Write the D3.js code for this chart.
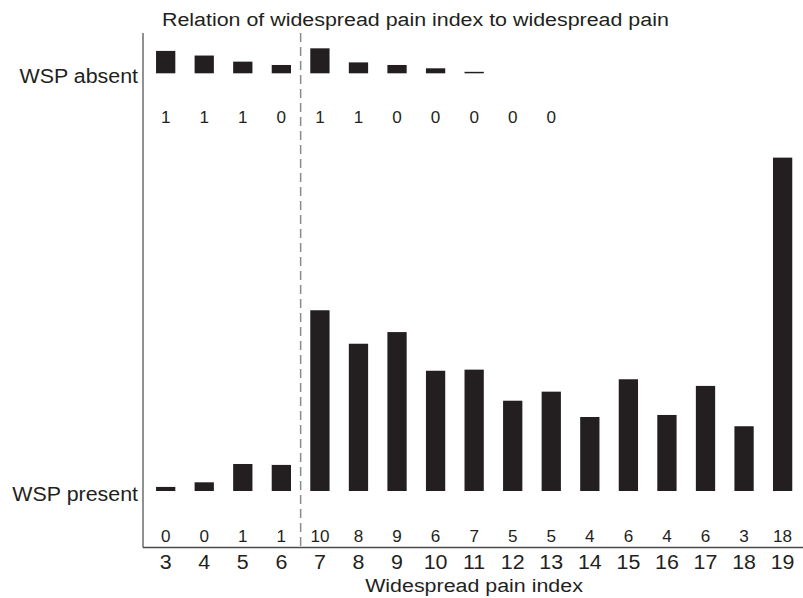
<!DOCTYPE html>
<html>
<head>
<meta charset="utf-8">
<script src="https://cdn.jsdelivr.net/npm/d3@7"></script>
<style>
  html, body { margin: 0; padding: 0; background: #fff; }
  svg { display: block; }
  text { font-family: "Liberation Sans", Arial, Helvetica, sans-serif; fill: #231f20; }
</style>
</head>
<body>
<svg id="chart" width="803" height="598"></svg>
<script>
// ---- data ----
const categories = [3, 4, 5, 6, 7, 8, 9, 10, 11, 12, 13, 14, 15, 16, 17, 18, 19];
// WSP present: bar heights (percent of patients)
const presentValues = [0.22, 0.47, 1.46, 1.41, 9.77, 7.96, 8.59, 6.5, 6.56, 4.88, 5.37, 4.0, 6.04, 4.11, 5.68, 3.5, 18.02];
const presentLabels = ["0", "0", "1", "1", "10", "8", "9", "6", "7", "5", "5", "4", "6", "4", "6", "3", "18"];
// WSP absent: categories 3..13
const absentCategories = [3, 4, 5, 6, 7, 8, 9, 10, 11, 12, 13];
const absentValues = [1.21, 0.96, 0.63, 0.45, 1.35, 0.59, 0.45, 0.27, 0.08, 0, 0];
const absentLabels = ["1", "1", "1", "0", "1", "1", "0", "0", "0", "0", "0"];
const groupLabels = ["WSP absent", "WSP present"];
const cutoff = 6.5; // dashed line between 6 and 7
const titleText = "Relation of widespread pain index to widespread pain";
const xTitle = "Widespread pain index";

// ---- layout ----
const svg = d3.select("#chart");
const ink = "#231f20";
const axisX0 = 143, axisTop = 33, axisBottom = 547.5, axisRight = 803;
const presentBase = 491, absentBase = 73.3;
const pxPerUnit = 18.5;

const x = d3.scaleBand()
  .domain(categories)
  .range([146.4, 801.9])
  .paddingInner(0.5)
  .paddingOuter(0.25);

const yPresent = d3.scaleLinear().domain([0, 20]).range([presentBase, presentBase - 20 * pxPerUnit]);
const yAbsent = d3.scaleLinear().domain([0, 2]).range([absentBase, absentBase - 2 * pxPerUnit]);

function stretchedText(g, str, px, py, size, sx, anchor) {
  return g.append("text")
    .attr("transform", `translate(${px},${py}) scale(${sx},1)`)
    .attr("text-anchor", anchor)
    .style("font-size", size + "px")
    .text(str);
}

// title
stretchedText(svg, titleText, 162, 26, 18, 1.19, "start");

// dashed cutoff line
const cutX = x(6) + x.bandwidth() / 2 + x.step() / 2;
svg.append("line")
  .attr("x1", cutX).attr("x2", cutX)
  .attr("y1", axisTop).attr("y2", axisBottom)
  .attr("stroke", "#8a8a8a").attr("stroke-width", 1.5)
  .attr("stroke-dasharray", "9,5");

// axes lines
svg.append("line")
  .attr("x1", axisX0).attr("x2", axisX0)
  .attr("y1", axisTop).attr("y2", axisBottom)
  .attr("stroke", "#6d6d6d").attr("stroke-width", 1.5);
svg.append("line")
  .attr("x1", axisX0).attr("x2", axisRight)
  .attr("y1", axisBottom).attr("y2", axisBottom)
  .attr("stroke", "#4a4a4a").attr("stroke-width", 1.5);

// WSP absent bars
svg.append("g").selectAll("rect")
  .data(absentCategories.map((c, i) => ({ c, v: absentValues[i] })).filter(d => d.v > 0))
  .join("rect")
  .attr("x", d => x(d.c))
  .attr("width", x.bandwidth())
  .attr("y", d => yAbsent(d.v))
  .attr("height", d => Math.max(1.2, yAbsent(0) - yAbsent(d.v)))
  .attr("fill", ink);

// WSP present bars
svg.append("g").selectAll("rect")
  .data(categories.map((c, i) => ({ c, v: presentValues[i] })))
  .join("rect")
  .attr("x", d => x(d.c))
  .attr("width", x.bandwidth())
  .attr("y", d => yPresent(d.v))
  .attr("height", d => yPresent(0) - yPresent(d.v))
  .attr("fill", ink);

// count labels
const gAbsLab = svg.append("g");
absentCategories.forEach((c, i) => {
  stretchedText(gAbsLab, absentLabels[i], x(c) + x.bandwidth() / 2, 122.7, 16, 1.07, "middle");
});
const gPresLab = svg.append("g");
categories.forEach((c, i) => {
  stretchedText(gPresLab, presentLabels[i], x(c) + x.bandwidth() / 2, 541.5, 16, 1.07, "middle");
});

// group labels (y axis)
stretchedText(svg, groupLabels[0], 138, 82.7, 20, 1.07, "end");
stretchedText(svg, groupLabels[1], 138, 500.5, 20, 1.07, "end");

// x tick labels
const gTicks = svg.append("g");
categories.forEach(c => {
  stretchedText(gTicks, String(c), x(c) + x.bandwidth() / 2, 568.5, 20, 1.07, "middle");
});

// x axis title
stretchedText(svg, xTitle, 474, 592, 18, 1.19, "middle");
</script>
</body>
</html>
